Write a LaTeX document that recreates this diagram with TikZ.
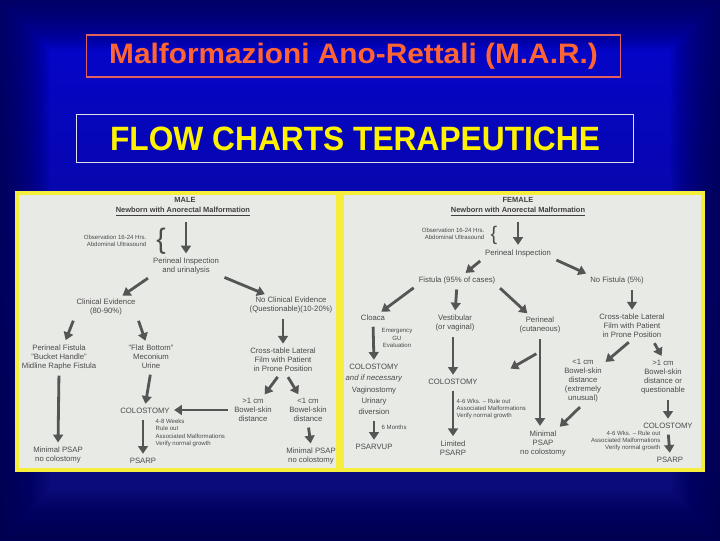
\documentclass[tikz,border=0pt]{standalone}
\usepackage{fontspec}
\setmainfont{Liberation Sans}
\usetikzlibrary{positioning,arrows.meta}
\definecolor{bgnavy}{RGB}{0,0,80}
\definecolor{bgblue}{RGB}{4,4,208}
\definecolor{bglow}{RGB}{12,12,115}
\definecolor{titleorange}{RGB}{255,100,50}
\definecolor{titleframe}{RGB}{225,95,95}
\definecolor{titlegrey}{RGB}{225,225,225}
\definecolor{paper}{RGB}{232,234,230}
\definecolor{frameyellow}{RGB}{245,238,60}
\definecolor{ink}{RGB}{75,75,75}
\definecolor{arrowgrey}{RGB}{85,85,85}
\tikzset{
  titlebox/.style={line width=0.8pt, inner sep=0pt, align=center},
  chart/.style={fill=paper, draw=frameyellow, line width=2.5pt},
  lbl/.style={text=ink, font=\fontsize{5.5}{6.4}\selectfont, align=center, inner sep=1pt},
  tiny/.style={text=ink, font=\fontsize{4.3}{5.1}\selectfont, inner sep=1pt},
  head/.style={text=ink!85!black, font=\bfseries\fontsize{5.3}{6.2}\selectfont, inner sep=1pt},
  brace/.style={text=ink, inner sep=0pt},
  fwd/.style={-{Triangle[length=5.5pt,width=7pt]}, line width=2pt, draw=arrowgrey,
              shorten <=3pt, shorten >=2pt},
}
\begin{document}
\begin{tikzpicture}[x=0.025cm, y=-0.025cm]
  % background with darker rim
  \fill[bgnavy] (0,0) rectangle (720,540);
  \shade[top color=bgblue, bottom color=bglow] (0,0) rectangle (720,540);
  \foreach \d in {2,4,...,50}
    \fill[bgnavy, opacity=0.06, even odd rule] (0,0) rectangle (720,540) (\d,\d) rectangle ({720-\d},{540-\d});

  \node[titlebox, draw=titleframe, minimum width=13.33cm, minimum height=1.05cm, text=titleorange,
        font=\bfseries\fontsize{20}{20}\selectfont] (title) at (353.5,56)
        {\scalebox{1.06}[1]{Malformazioni Ano-Rettali (M.A.R.)}};
  \node[titlebox, draw=titlegrey, minimum width=13.9cm, minimum height=1.18cm, text=yellow,
        font=\bfseries\fontsize{24}{24}\selectfont] (subtitle) at (355,138.5)
        {\scalebox{0.94}[1]{FLOW CHARTS TERAPEUTICHE}};

  \draw[chart] (17,193) rectangle (338,470);
  \draw[chart] (342,193) rectangle (703,470);

  % MALE
  \node[head] (male) at (185,200) {MALE};
  \node[head, below=1pt of male, xshift=-1.5pt] (mnewb) {\underline{Newborn with Anorectal Malformation}};
  \node[tiny, align=right, anchor=east] (mobs) at (148,241) {Observation 16-24 Hrs.\\Abdominal Ultrasound};
  \node[brace, font=\fontsize{20}{20}\selectfont] (mbrace) at (161,241) {\{};
  \node[lbl] (minsp) at (186,266) {Perineal Inspection\\and urinalysis};
  \node[lbl] (mclin) at (106,307) {Clinical Evidence\\(80-90\%)};
  \node[lbl] (mnoclin) at (291,305) {No Clinical Evidence\\(Questionable)(10-20\%)};
  \node[lbl] (mperf) at (59,357) {Perineal Fistula\\"Bucket Handle"\\Midline Raphe Fistula};
  \node[lbl] (mflat) at (151,357) {"Flat Bottom"\\Meconium\\Urine};
  \node[lbl] (mcolo) at (145,411) {COLOSTOMY};
  \node[tiny, align=left, anchor=west] (mnote) at (154,433) {4-8 Weeks\\Rule out\\Associated Malformations\\Verify normal growth};
  \node[lbl] (mminl) at (58,455) {Minimal PSAP\\no colostomy};
  \node[lbl] (mpsarp) at (143,461) {PSARP};
  \node[lbl] (mcross) at (283,360) {Cross-table Lateral\\Film with Patient\\in Prone Position};
  \node[lbl] (mgt) at (253,410) {>1 cm\\Bowel-skin\\distance};
  \node[lbl] (mlt) at (308,410) {<1 cm\\Bowel-skin\\distance};
  \node[lbl] (mminr) at (311,456) {Minimal PSAP\\no colostomy};

  \draw[fwd] (mnewb.south -| minsp.north) -- (minsp.north);
  \draw[fwd] (minsp.south west) -- (mclin);
  \draw[fwd] (minsp.south east) -- (mnoclin);
  \draw[fwd] (mnoclin.south -| mcross.north) -- (mcross.north);
  \draw[fwd] (mclin.south west) -- (mperf);
  \draw[fwd] (mclin.south east) -- (mflat);
  \draw[fwd] (mflat.south) -- (mcolo.north);
  \draw[fwd] (mperf.south) -- (mminl.north);
  \draw[fwd] (mcolo.south -| mpsarp.north) -- (mpsarp.north);
  \draw[fwd] (mgt.west) -- (mgt.west -| mcolo.east);
  \draw[fwd] ([xshift=-2pt]mcross.south) -- (mgt);
  \draw[fwd] ([xshift=2pt]mcross.south) -- (mlt);
  \draw[fwd] (mlt.south) -- (mminr.north);

  % FEMALE
  \node[head] (female) at (518,200) {FEMALE};
  \node[head, below=1pt of female] (fnewb) {\underline{Newborn with Anorectal Malformation}};
  \node[tiny, align=right, anchor=east] (fobs) at (486,234) {Observation 16-24 Hrs.\\Abdominal Ultrasound};
  \node[brace, font=\fontsize{14}{14}\selectfont] (fbrace) at (494,235) {\{};
  \node[lbl] (finsp) at (518,253) {Perineal Inspection};
  \node[lbl] (ffist) at (457,280) {Fistula (95\% of cases)};
  \node[lbl] (fnofist) at (617,280) {No Fistula (5\%)};
  \node[lbl] (fcloaca) at (373,318) {Cloaca};
  \node[lbl] (fvest) at (455,323) {Vestibular\\(or vaginal)};
  \node[lbl] (fperin) at (540,325) {Perineal\\(cutaneous)};
  \node[lbl] (fcross) at (632,326) {Cross-table Lateral\\Film with Patient\\in Prone Position};
  \node[tiny, align=center] (femerg) at (397,338) {Emergency\\GU\\Evaluation};
  \node[lbl] (fcolo1) at (374,367) {COLOSTOMY};
  \node[lbl, font=\fontsize{5.5}{8}\selectfont] (fnec) at (374,395) {\textit{and if necessary}\\Vaginostomy\\Urinary\\diversion};
  \node[tiny, anchor=west] (f6m) at (380,427) {6 Months};
  \node[lbl] (fpsarvup) at (374,447) {PSARVUP};
  \node[lbl] (fcolo2) at (453,382) {COLOSTOMY};
  \node[tiny, align=left, anchor=west] (fnote1) at (455,409) {4-6 Wks. -- Rule out\\Associated Malformations\\Verify normal growth};
  \node[lbl] (flimited) at (453,448) {Limited\\PSARP};
  \node[lbl] (fminimal) at (543,443) {Minimal\\PSAP\\no colostomy};
  \node[lbl] (flt) at (583,381) {<1 cm\\Bowel-skin\\distance\\(extremely\\unusual)};
  \node[lbl] (fgt) at (663,377) {>1 cm\\Bowel-skin\\distance or\\questionable};
  \node[lbl] (fcolo3) at (668,426) {COLOSTOMY};
  \node[tiny, align=right, anchor=east] (fnote2) at (662,441) {4-6 Wks. -- Rule out\\Associated Malformations\\Verify normal growth};
  \node[lbl] (fpsarp) at (670,460) {PSARP};
  \coordinate (fpoint) at (508,370);

  \draw[fwd] (fnewb.south) -- (finsp.north);
  \draw[fwd] (finsp.south west) -- (ffist);
  \draw[fwd] (finsp.south east) -- (fnofist.north west);
  \draw[fwd] (fnofist.south -| fcross.north) -- (fcross.north);
  \draw[fwd] (ffist.south west) -- (fcloaca);
  \draw[fwd] (ffist.south) -- (fvest.north);
  \draw[fwd] (ffist.south east) -- (fperin);
  \draw[fwd] (fcloaca.south) -- (fcolo1.north);
  \draw[fwd] (fnec.south) -- (fpsarvup.north);
  \draw[fwd] (fvest.south -| fcolo2.north) -- (fcolo2.north);
  \draw[fwd] (fcolo2.south) -- (flimited.north);
  \draw[fwd] (fperin.south) -- (fminimal.north -| fperin.south);
  \draw[fwd] ([yshift=-12pt]fperin.south) -- (fpoint);
  \draw[fwd] (fcross.south) -- (flt);
  \draw[fwd] ([xshift=-10pt]fcross.south east) -- (fgt.north);
  \draw[fwd] (flt.south) -- (fminimal);
  \draw[fwd] (fgt.south -| fcolo3.north) -- (fcolo3.north);
  \draw[fwd] (fcolo3.south) -- (fpsarp.north);
\end{tikzpicture}
\end{document}
